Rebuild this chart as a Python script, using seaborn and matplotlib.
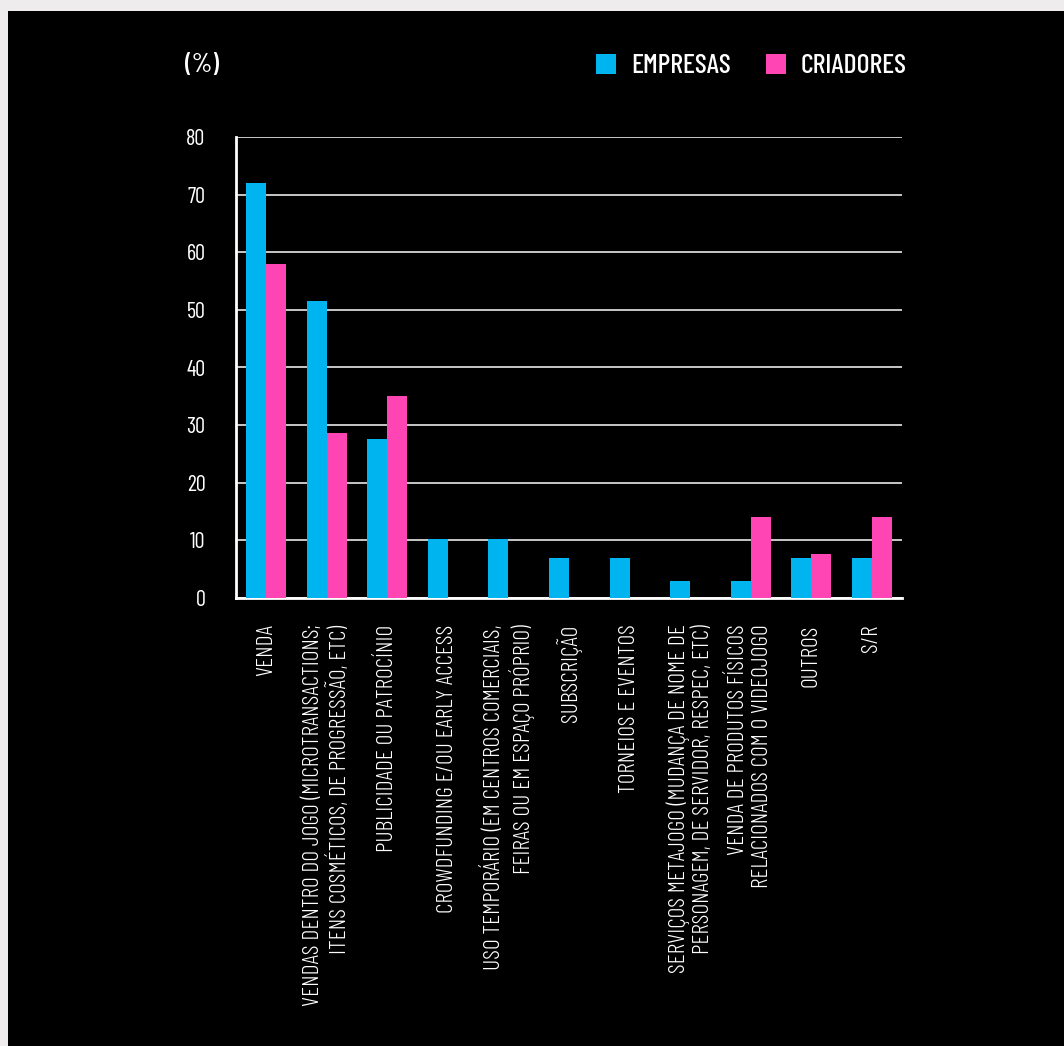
import numpy as np
import pandas as pd
import matplotlib
matplotlib.use('Agg')
import matplotlib.pyplot as plt
import seaborn as sns
from matplotlib.patches import Rectangle, Patch
from matplotlib.ticker import FixedLocator

# Data
categorias = [
    'VENDA',
    'VENDAS DENTRO DO JOGO (MICROTRANSACTIONS;\nITENS COSMÉTICOS, DE PROGRESSÃO, ETC)',
    'PUBLICIDADE OU PATROCÍNIO',
    'CROWDFUNDING E/OU EARLY ACCESS',
    'USO TEMPORÁRIO (EM CENTROS COMERCIAIS,\nFEIRAS OU EM ESPAÇO PRÓPRIO)',
    'SUBSCRIÇÃO',
    'TORNEIOS E EVENTOS',
    'SERVIÇOS METAJOGO (MUDANÇA DE NOME DE\nPERSONAGEM, DE SERVIDOR, RESPEC, ETC)',
    'VENDA DE PRODUTOS FÍSICOS\nRELACIONADOS COM O VIDEOJOGO',
    'OUTROS',
    'S/R',
]
empresas = [72, 51.6, 27.6, 10.2, 10.2, 7, 7, 3, 3, 7, 7]
criadores = [58, 28.6, 35.1, 0, 0, 0, 0, 0, 14, 7.7, 14]
series = ['EMPRESAS', 'CRIADORES']
cores = ['#00B4F0', '#FF44B4']

df = pd.DataFrame({'cat': categorias * 2,
                   'serie': [series[0]] * len(categorias) + [series[1]] * len(categorias),
                   'valor': empresas + criadores})

sns.set_theme(style='white')
plt.rcParams['font.family'] = ['Barlow Condensed', 'DejaVu Sans']

fig = plt.figure(figsize=(10.64, 10.46), dpi=100)
fig.patch.set_facecolor('#EEECEC')
# black panel with the thin grey border on top and left
fig.patches.append(Rectangle((8 / 1064, 0), 1, 1 - 11 / 1046, transform=fig.transFigure,
                             facecolor='black', edgecolor='none', zorder=-10))

ax = fig.add_axes([236 / 1064, 1 - 598 / 1046, 666 / 1064, 461 / 1046])
ax.set_facecolor('black')
sns.barplot(data=df, x='cat', y='valor', hue='serie', palette=cores, width=0.66,
            saturation=1, linewidth=0, ax=ax, zorder=3, legend=False)

ax.set_xlim(-0.5, len(categorias) - 0.5)
ax.set_ylim(0, 80)
ax.set_yticks(np.arange(0, 81, 10))
ax.grid(axis='y', color='#e8e8e8', linewidth=1.2, zorder=0)
ax.set_axisbelow(True)
for s in ['top', 'right']:
    ax.spines[s].set_visible(False)
for s in ['left', 'bottom']:
    ax.spines[s].set_color('white')
    ax.spines[s].set_linewidth(2)
ax.set_xlabel('')
ax.set_ylabel('')

ax.tick_params(axis='y', length=0, pad=22, labelcolor='white', labelsize=16)
ax.tick_params(axis='x', which='major', length=0, pad=19, labelcolor='white', labelsize=17)
ax.xaxis.set_minor_locator(FixedLocator(np.arange(0.5, len(categorias), 1)))
ax.tick_params(axis='x', which='minor', length=9, width=2, color='white', direction='out')
ax.set_xticks(range(len(categorias)))
ax.set_xticklabels(categorias, rotation=90, ha='center', va='top', multialignment='right',
                   linespacing=1.2, fontweight=300)

fig.text(185 / 1064, 1 - 65 / 1046, '(%)', color='white', fontsize=19, fontweight='medium',
         va='center', ha='left')
handles = [Patch(facecolor=c, edgecolor='none') for c in cores]
leg = fig.legend(handles, series, loc='center right', bbox_to_anchor=(932 / 1064, 1 - 66 / 1046),
                 ncol=2, frameon=False, handlelength=0.72, handleheight=0.72, handletextpad=0.55,
                 columnspacing=1.25, prop={'size': 20, 'weight': 'medium'}, labelcolor='white')

fig.savefig('out.png', dpi=100, facecolor=fig.get_facecolor())
